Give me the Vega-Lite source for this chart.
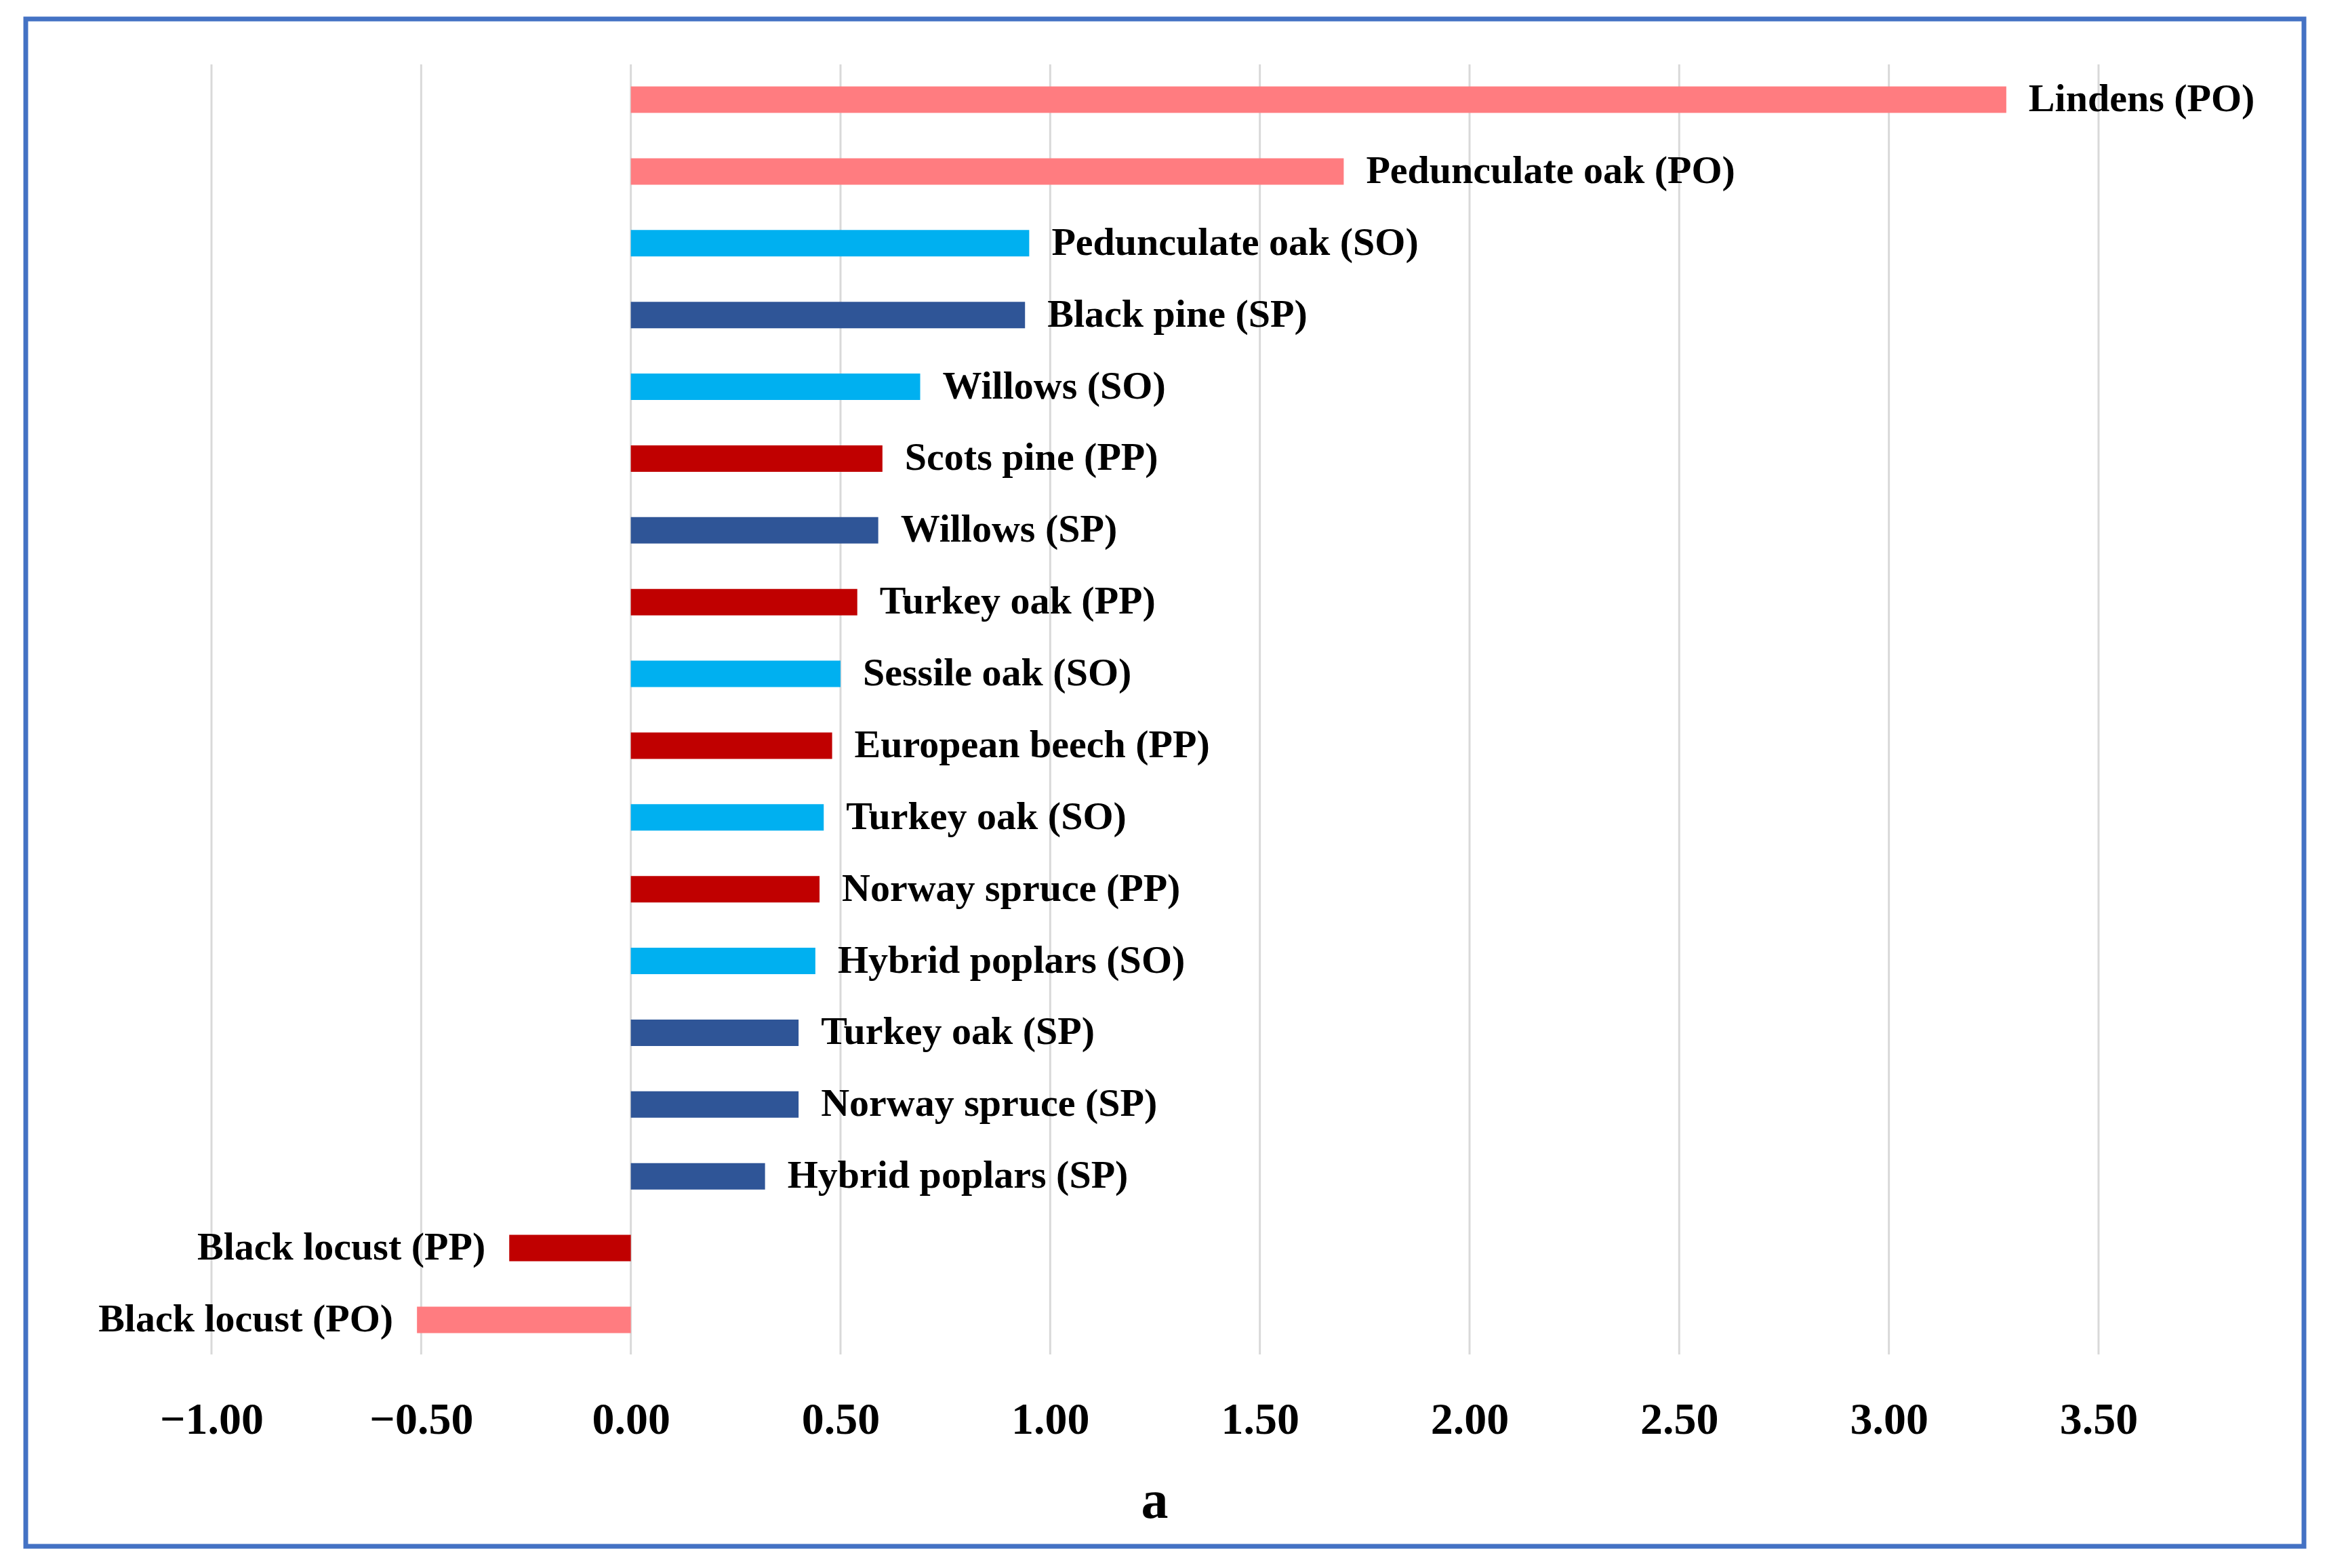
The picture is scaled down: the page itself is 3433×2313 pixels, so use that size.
{
  "$schema": "https://vega.github.io/schema/vega-lite/v6.json",
  "width": 3361,
  "height": 2253,
  "autosize": {"type": "none"},
  "padding": {"left": 38, "top": 28, "right": 34, "bottom": 32},
  "background": "white",
  "config": {
    "view": {"stroke": "#4472C4", "strokeWidth": 7, "fill": "white"},
    "font": "Liberation Serif"
  },
  "datasets": {
    "bars": [
      {"species": "Lindens (PO)", "value": 3.28, "group": "PO"},
      {"species": "Pedunculate oak (PO)", "value": 1.70, "group": "PO"},
      {"species": "Pedunculate oak (SO)", "value": 0.95, "group": "SO"},
      {"species": "Black pine (SP)", "value": 0.94, "group": "SP"},
      {"species": "Willows (SO)", "value": 0.69, "group": "SO"},
      {"species": "Scots pine (PP)", "value": 0.60, "group": "PP"},
      {"species": "Willows (SP)", "value": 0.59, "group": "SP"},
      {"species": "Turkey oak (PP)", "value": 0.54, "group": "PP"},
      {"species": "Sessile oak (SO)", "value": 0.50, "group": "SO"},
      {"species": "European beech (PP)", "value": 0.48, "group": "PP"},
      {"species": "Turkey oak (SO)", "value": 0.46, "group": "SO"},
      {"species": "Norway spruce (PP)", "value": 0.45, "group": "PP"},
      {"species": "Hybrid poplars (SO)", "value": 0.44, "group": "SO"},
      {"species": "Turkey oak (SP)", "value": 0.40, "group": "SP"},
      {"species": "Norway spruce (SP)", "value": 0.40, "group": "SP"},
      {"species": "Hybrid poplars (SP)", "value": 0.32, "group": "SP"},
      {"species": "Black locust (PP)", "value": -0.29, "group": "PP"},
      {"species": "Black locust (PO)", "value": -0.51, "group": "PO"}
    ],
    "grid": [
      {"tick": -1.0}, {"tick": -0.5}, {"tick": 0.0}, {"tick": 0.5}, {"tick": 1.0},
      {"tick": 1.5}, {"tick": 2.0}, {"tick": 2.5}, {"tick": 3.0}, {"tick": 3.5}
    ]
  },
  "encoding": {
    "y": {
      "field": "species",
      "type": "nominal",
      "sort": null,
      "scale": {
        "domain": ["Lindens (PO)", "Pedunculate oak (PO)", "Pedunculate oak (SO)", "Black pine (SP)", "Willows (SO)", "Scots pine (PP)", "Willows (SP)", "Turkey oak (PP)", "Sessile oak (SO)", "European beech (PP)", "Turkey oak (SO)", "Norway spruce (PP)", "Hybrid poplars (SO)", "Turkey oak (SP)", "Norway spruce (SP)", "Hybrid poplars (SP)", "Black locust (PP)", "Black locust (PO)"],
        "range": [99.5, 1938.5],
        "paddingInner": 0.6317,
        "paddingOuter": 0,
        "round": false
      },
      "axis": null
    }
  },
  "layer": [
    {
      "data": {"name": "grid"},
      "mark": {"type": "rule", "color": "#D9D9D9", "strokeWidth": 3, "yOffset": -52, "y2Offset": 51},
      "encoding": {
        "x": {
          "field": "tick",
          "type": "quantitative",
          "scale": {"domain": [-1.4429, 3.9898], "nice": false, "zero": false},
          "axis": {
            "values": [-1, -0.5, 0, 0.5, 1, 1.5, 2, 2.5, 3, 3.5],
            "format": ".2f",
            "grid": false,
            "ticks": false,
            "tickSize": 0,
            "domain": false,
            "offset": -186.5,
            "labelPadding": 0,
            "labelBaseline": "middle",
            "labelFont": "Liberation Serif",
            "labelFontWeight": "bold",
            "labelFontSize": 66,
            "labelColor": "#000000",
            "title": "a",
            "titleFont": "Liberation Serif",
            "titleFontWeight": "bold",
            "titleFontSize": 80,
            "titleColor": "#000000",
            "titleBaseline": "middle",
            "titleY": 119.5,
            "titleX": 1665
          }
        },
        "y": {"datum": "Lindens (PO)"},
        "y2": {"datum": "Black locust (PO)"}
      }
    },
    {
      "data": {"name": "bars"},
      "mark": {"type": "bar"},
      "encoding": {
        "x": {"field": "value", "type": "quantitative"},
        "x2": {"datum": 0},
        "color": {
          "field": "group",
          "type": "nominal",
          "scale": {"domain": ["PO", "SO", "SP", "PP"], "range": ["#FF7C80", "#00B0F0", "#2F5597", "#C00000"]},
          "legend": null
        }
      }
    },
    {
      "data": {"name": "bars"},
      "transform": [{"filter": "datum.value >= 0"}],
      "mark": {"type": "text", "align": "left", "baseline": "middle", "dx": 33, "font": "Liberation Serif", "fontWeight": "bold", "fontSize": 58, "color": "#000000"},
      "encoding": {
        "x": {"field": "value", "type": "quantitative"},
        "text": {"field": "species"}
      }
    },
    {
      "data": {"name": "bars"},
      "transform": [{"filter": "datum.value < 0"}],
      "mark": {"type": "text", "align": "right", "baseline": "middle", "dx": -35, "font": "Liberation Serif", "fontWeight": "bold", "fontSize": 58, "color": "#000000"},
      "encoding": {
        "x": {"field": "value", "type": "quantitative"},
        "text": {"field": "species"}
      }
    }
  ]
}
